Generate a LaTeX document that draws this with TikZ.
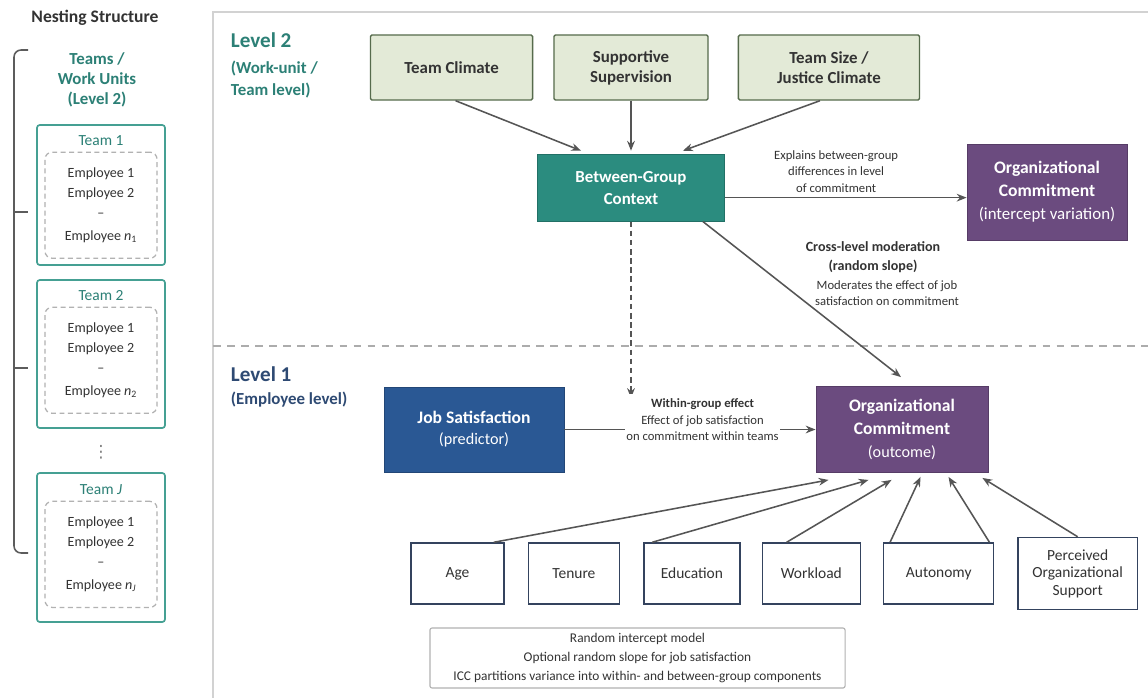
\documentclass[tikz,border=0pt]{standalone}
\usepackage{fontspec}
\setmainfont{Carlito}
\newfontfamily\symfont{DejaVu Sans}
\usepackage{xcolor}
\definecolor{TealText}{HTML}{2C8076}
\definecolor{TealFill}{HTML}{2B8C7F}
\definecolor{TealLine}{HTML}{45A093}
\definecolor{SageFill}{HTML}{E3EAD7}
\definecolor{SageLine}{HTML}{566B4C}
\definecolor{PlumFill}{HTML}{6B4B7F}
\definecolor{NavyFill}{HTML}{2A5894}
\definecolor{NavyText}{HTML}{2E4A73}
\definecolor{BoxLine}{HTML}{34435E}
\definecolor{ArrowGrey}{HTML}{555555}
\definecolor{PanelGrey}{HTML}{D2D2D2}
\definecolor{InkGrey}{HTML}{333333}
\usepackage{tikz}
\usetikzlibrary{positioning, calc, arrows.meta}
\tikzstyle{factor} = [rectangle, draw=SageLine, fill=SageFill, text=InkGrey, minimum height=1.625cm, align=center, line width=1pt, rounded corners=1pt, font=\fontsize{12}{14.2}\selectfont\bfseries]
\tikzstyle{context} = [rectangle, draw=TealFill!80!black, fill=TealFill, text=white, minimum width=4.675cm, minimum height=1.675cm, align=center, line width=0.6pt, font=\fontsize{12}{15.6}\selectfont\bfseries]
\tikzstyle{outcome} = [rectangle, draw=PlumFill!80!black, fill=PlumFill, text=white, align=center, line width=0.6pt, font=\fontsize{12.5}{16.4}\selectfont\bfseries]
\tikzstyle{predictor} = [rectangle, draw=NavyFill!80!black, fill=NavyFill, text=white, minimum width=4.5cm, minimum height=2.125cm, align=center, line width=0.6pt, font=\fontsize{12.5}{15}\selectfont\bfseries]
\tikzstyle{control} = [rectangle, draw=BoxLine, fill=white, text=InkGrey, minimum height=1.525cm, align=center, line width=1pt, font=\fontsize{11}{12.5}\selectfont]
\tikzstyle{teambox} = [rectangle, draw=TealLine, line width=1.2pt, rounded corners=2pt, minimum width=3.2cm]
\tikzstyle{teamname} = [text=TealText, font=\fontsize{11}{13}\selectfont]
\tikzstyle{emplist} = [rectangle, draw=gray!60, dash pattern=on 3.5pt off 2.5pt, line width=0.9pt, rounded corners=5pt, minimum width=2.8cm, minimum height=2.65cm, align=center, text=InkGrey, font=\fontsize{10}{14.2}\selectfont]
\tikzstyle{note} = [align=center, text=InkGrey, font=\fontsize{9}{11.5}\selectfont]
\tikzstyle{arrow} = [->, >={Stealth[length=7pt,width=5.5pt]}, color=ArrowGrey, line width=1.1pt]
\tikzstyle{dasharrow} = [arrow, dash pattern=on 4pt off 2.5pt]
\tikzstyle{bracket} = [draw=InkGrey!80, line width=1.1pt, rounded corners=5pt]
\tikzstyle{divider} = [draw=gray!65, line width=1.2pt, dash pattern=on 5.5pt off 4.5pt]

\begin{document}
\begin{tikzpicture}[x=0.025cm, y=-0.025cm]
        % Canvas and main panel
        \useasboundingbox (0,0) rectangle (1148,697);
        \fill[white] (0,0) rectangle (1148,697);
        \draw[draw=PanelGrey, line width=0.8pt] (213,720) |- (1170,12);

        % Nesting structure (left)
        \node[text=InkGrey, font=\fontsize{12.5}{14}\selectfont\bfseries] (nesting) at (95,18) {Nesting Structure};
        \node[align=center, text=TealText, font=\fontsize{12}{14.2}\selectfont\bfseries] (teams) at (97,80) {Teams /\\Work Units\\(Level 2)};
        \draw[bracket] (28,50) -| (14,553) -- (28,553);
        \draw[bracket] (14,212) -- (28,212);
        \draw[bracket] (14,368) -- (28,368);

        \node[teambox, minimum height=3.5cm] (team1) at (101,195) {};
        \node[teamname, below=0.15cm of team1.north] (team1name) {Team 1};
        \node[emplist, below=1pt of team1name] (team1emp) {Employee 1\\Employee 2\\--\\[2pt]Employee \textit{n}\textsubscript{1}};

        \node[teambox, minimum height=3.7cm] (team2) at (101,354) {};
        \node[teamname, below=0.15cm of team2.north] (team2name) {Team 2};
        \node[emplist, below=1pt of team2name] (team2emp) {Employee 1\\Employee 2\\--\\[2pt]Employee \textit{n}\textsubscript{2}};

        \node[text=gray, font=\symfont\fontsize{12}{14}\selectfont] (dots) at (101,452) {⋮};

        \node[teambox, minimum height=3.725cm] (teamJ) at (101,547.5) {};
        \node[teamname, below=0.18cm of teamJ.north] (teamJname) {Team \textit{J}};
        \node[emplist, below=1pt of teamJname] (teamJemp) {Employee 1\\Employee 2\\--\\[2pt]Employee \textit{n}\textsubscript{\textit{J}}};

        % Level 2
        \node[anchor=west, text=TealText, font=\fontsize{15}{17}\selectfont\bfseries] (level2) at (226,40) {Level 2};
        \node[anchor=north west, align=left, text=TealText, font=\fontsize{12}{15.6}\selectfont\bfseries] (level2sub) at (226,56) {(Work-unit /\\Team level)};

        \node[factor, minimum width=3.85cm] (supervision) at (631,67.5) {Supportive\\Supervision};
        \node[factor, minimum width=4.05cm, left=0.5cm of supervision] (climate) {Team Climate};
        \node[factor, minimum width=4.525cm, right=0.725cm of supervision] (teamsize) {Team Size /\\Justice Climate};
        \node[context, below=1.325cm of supervision] (between) {Between-Group\\Context};
        \node[outcome, minimum width=4cm, minimum height=2.4cm] (orgtop) at (1047,192) {Organizational\\Commitment\\{\mdseries\fontsize{12}{16.4}\selectfont (intercept variation)}};

        % Level 1
        \draw[divider] (213,346) -- (1148,346);
        \node[anchor=west, text=NavyText, font=\fontsize{15}{17}\selectfont\bfseries] (level1) at (226,374) {Level 1};
        \node[anchor=west, text=NavyText, font=\fontsize{12}{14}\selectfont\bfseries] (level1sub) at (226,400) {(Employee level)};

        \node[predictor] (jobsat) at (474,429.5) {Job Satisfaction\\{\mdseries\fontsize{11.5}{15}\selectfont (predictor)}};
        \node[outcome, minimum width=4.3cm, minimum height=2.15cm, right=6.275cm of jobsat] (orgout) {Organizational\\Commitment\\{\mdseries\fontsize{11.5}{16}\selectfont (outcome)}};

        \node[control, minimum width=2.325cm] (age) at (457.5,573.5) {Age};
        \node[control, minimum width=2.275cm, right=0.575cm of age] (tenure) {Tenure};
        \node[control, minimum width=2.4cm, right=0.575cm of tenure] (education) {Education};
        \node[control, minimum width=2.45cm, right=0.525cm of education] (workload) {Workload};
        \node[control, minimum width=2.75cm, right=0.55cm of workload] (autonomy) {Autonomy};
        \node[control, minimum width=2.975cm, minimum height=1.8cm, right=0.575cm of autonomy] (support) {Perceived\\Organizational\\Support};

        \node[rectangle, draw=gray!60, line width=0.8pt, rounded corners=1.5pt, fill=white, minimum width=10.375cm, minimum height=1.5cm, align=center, text=InkGrey, font=\fontsize{9.5}{13.2}\selectfont] (model) at (637.5,658) {Random intercept model\\Optional random slope for job satisfaction\\ICC partitions variance into within- and between-group components};

        % Connect nodes
        \draw[arrow] ([shift={(4,0)}]climate.south) -- ([shift={(44,-3)}]between.north west);
        \draw[arrow] (supervision.south) -- ([shift={(0,-3)}]between.north);
        \draw[arrow] ([shift={(-9,0)}]teamsize.south) -- ([shift={(-42,-3)}]between.north east);

        \coordinate (explainstart) at ([shift={(0,10)}]between.east);
        \draw[arrow] (explainstart) -- (explainstart -| orgtop.west) node[note, above, pos=0.46] (explains) {Explains between-group\\differences in level\\of commitment};

        \coordinate (withintip) at (631,398);
        \draw[dasharrow] (between.south) -- (between.south |- withintip);
        \draw[arrow] (jobsat.east) -- (orgout.west) node[note, fill=white, inner xsep=1pt, pos=0.55, yshift=7pt] (within) {\textbf{Within-group effect}\\Effect of job satisfaction\\on commitment within teams};

        \draw[arrow] ([shift={(-22,0)}]between.south east) -- ([shift={(-1,-9)}]orgout.north);
        \node[note, font=\fontsize{10}{13.5}\selectfont\bfseries] (crosslabel) at (873,257) {Cross-level moderation\\(random slope)};
        \node[note] (crossnote) at (887,293) {Moderates the effect of job\\satisfaction on commitment};

        \draw[arrow] ([shift={(-11,0)}]age.north east) -- ([shift={(13,7)}]orgout.south west);
        \draw[arrow] ([shift={(9,0)}]education.north west) -- ([shift={(53,7)}]orgout.south west);
        \draw[arrow] ([shift={(25,0)}]workload.north west) -- ([shift={(76,7)}]orgout.south west);
        \draw[arrow] ([shift={(7,0)}]autonomy.north west) -- ([shift={(105,4)}]orgout.south west);
        \draw[arrow] ([shift={(-5,0)}]autonomy.north east) -- ([shift={(133,4)}]orgout.south west);
        \draw[arrow] (support.north) -- ([shift={(-6,5)}]orgout.south east);
    \end{tikzpicture}
\end{document}
